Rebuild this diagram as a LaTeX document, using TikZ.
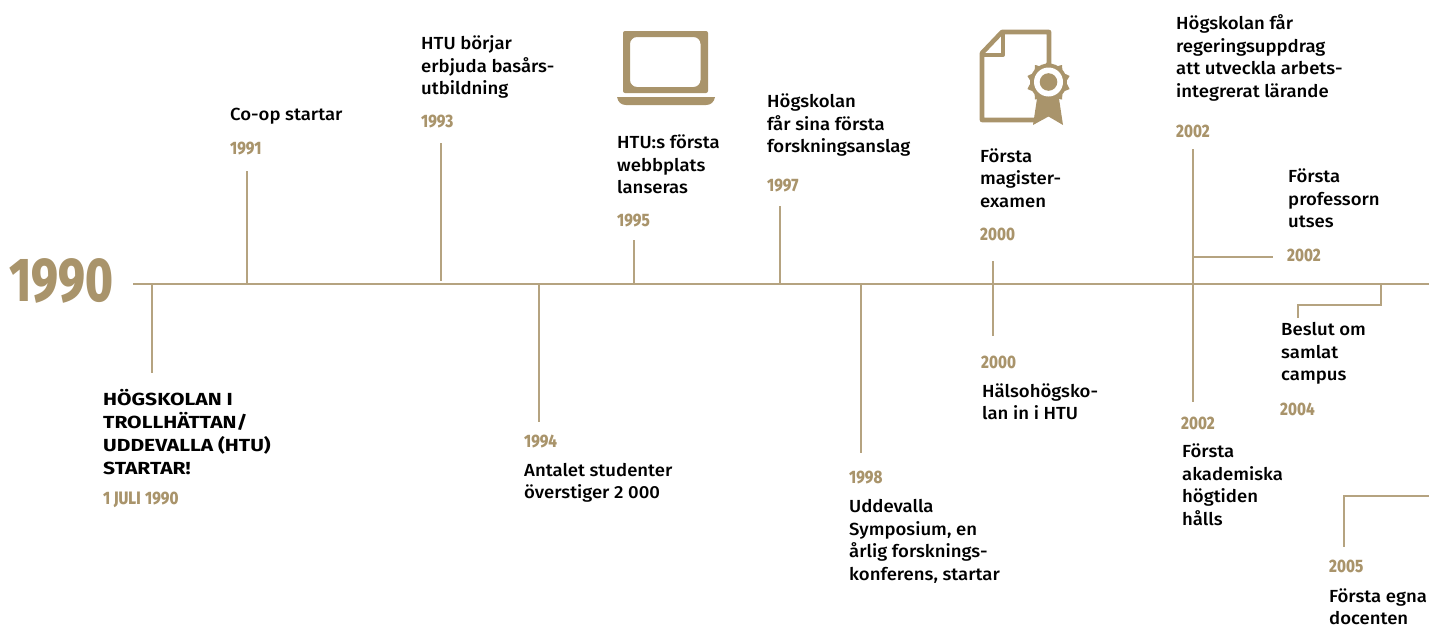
\documentclass[tikz,border=0pt]{standalone}
\usepackage{fontspec}
\setmainfont[FakeStretch=1.06]{Fira Sans Medium}
\newfontfamily\yearfont[FakeStretch=0.84]{Fira Sans ExtraBold}
\newfontfamily\bigfont[FakeStretch=0.76]{Fira Sans ExtraBold}
\newfontfamily\boldfont[FakeStretch=1.2]{Fira Sans Bold}
\definecolor{gold}{HTML}{A9946B}
\definecolor{linegold}{HTML}{B5A380}
\tikzset{
  x=1pt,y=-1pt,
  txt/.style={anchor=west,inner sep=0pt,align=left,text=black,font=\fontsize{17.5}{22.5}\selectfont},
  boldtxt/.style={txt,font=\boldfont\fontsize{17.5}{22.7}\selectfont},
  yr/.style={anchor=west,inner sep=0pt,text=gold,font=\yearfont\fontsize{18}{22}\selectfont},
  bigyr/.style={anchor=west,inner sep=0pt,text=gold,font=\bigfont\fontsize{62}{62}\selectfont},
  tl/.style={draw=linegold,line width=1.1pt},
  icon/.style={fill=gold,draw=none},
}
\begin{document}
\begin{tikzpicture}
\useasboundingbox (0,0) rectangle (1429,624);
% axis
\coordinate (axL) at (133,284);
\coordinate (axR) at (1429,284);
\draw[tl] (axL) -- (axR);
\node[bigyr] (big) at (9,281) {1990};

% 1990
\node[boldtxt] (t90) at (103,432) {HÖGSKOLAN I\\TROLLHÄTTAN/\\UDDEVALLA (HTU)\\STARTAR!};
\node[yr] (y90) at (103,500) {1 JULI\hspace{.25em}1990};
\coordinate (a90) at (152,284); \coordinate (b90) at (152,373);
\draw[tl] (a90) -- (b90);
% 1991
\node[txt] (t91) at (230,116.5) {Co-op startar};
\node[yr] (y91) at (230,149) {1991};
\coordinate (a91) at (247,284); \coordinate (b91) at (247,171);
\draw[tl] (a91) -- (b91);
% 1993
\node[txt] (t93) at (421,67) {HTU börjar\\erbjuda basårs-\\utbildning};
\node[yr] (y93) at (421,122) {1993};
\coordinate (a93) at (441,281); \coordinate (b93) at (441,143);
\draw[tl] (a93) -- (b93);
% 1994
\node[yr] (y94) at (524,441) {1994};
\node[txt] (t94) at (524,483) {Antalet studenter\\överstiger 2 000};
\coordinate (a94) at (539,284); \coordinate (b94) at (539,422);
\draw[tl] (a94) -- (b94);
% 1995
\node[txt] (t95) at (617,164.5) {HTU:s första\\webbplats\\lanseras};
\node[yr] (y95) at (617,221) {1995};
\coordinate (a95) at (634,284); \coordinate (b95) at (634,240);
\draw[tl] (a95) -- (b95);
% 1997
\node[txt] (t97) at (767,125.5) {Högskolan\\får sina första\\forskningsanslag};
\node[yr] (y97) at (767,186) {1997};
\coordinate (a97) at (780,284); \coordinate (b97) at (780,206);
\draw[tl] (a97) -- (b97);
% 1998
\node[yr] (y98) at (849,478) {1998};
\node[txt] (t98) at (849,541.5) {Uddevalla\\Symposium, en\\årlig forsknings-\\konferens, startar};
\coordinate (a98) at (861,284); \coordinate (b98) at (861,453);
\draw[tl] (a98) -- (b98);
% 2000 upper and lower
\node[txt] (t00a) at (980,178) {Första\\magister-\\examen};
\node[yr] (y00a) at (980,234) {2000};
\node[yr] (y00b) at (981,362) {2000};
\node[txt] (t00b) at (982,402) {Hälsohögsko-\\lan in i HTU};
\coordinate (a00) at (993,261); \coordinate (b00) at (993,336);
\draw[tl] (a00) -- (b00);
% 2002 group
\node[txt] (t02a) at (1176,58) {Högskolan får\\regeringsuppdrag\\att utveckla arbets-\\integrerat lärande};
\node[yr] (y02a) at (1176,131) {2002};
\node[txt] (t02b) at (1288,198.5) {Första\\professorn\\utses};
\node[yr] (y02b) at (1287,255) {2002};
\node[yr] (y02c) at (1181,423) {2002};
\node[txt] (t02c) at (1182,485) {Första\\akademiska\\högtiden\\hålls};
\coordinate (a02) at (1193,149); \coordinate (b02) at (1193,402);
\coordinate (c02) at (1193,257); \coordinate (d02) at (1273,257);
\draw[tl] (a02) -- (b02);
\draw[tl] (c02) -- (d02);
% 2004
\node[txt] (t04) at (1281,353.5) {Beslut om\\samlat\\campus};
\node[yr] (y04) at (1280,409) {2004};
\coordinate (a04) at (1381,284); \coordinate (m04) at (1381,305);
\coordinate (n04) at (1298,305); \coordinate (b04) at (1298,318);
\draw[tl] (a04) -- (m04) -- (n04) -- (b04);
% 2005
\node[yr] (y05) at (1329,566) {2005};
\node[txt] (t05) at (1329,607) {Första egna\\docenten};
\coordinate (a05) at (1429,496); \coordinate (m05) at (1344,496); \coordinate (b05) at (1344,547);
\draw[tl] (a05) -- (m05) -- (b05);

% laptop icon
\path[icon,even odd rule,rounded corners=2pt] (623,31) rectangle (708,93)
  [rounded corners=7pt] (630,37) rectangle (700.5,87);
\path[icon] (617,97) -- (715,97) .. controls (714,102) and (711,105) .. (706,105) -- (626,105) .. controls (621,105) and (618,102) .. (617,97) -- cycle;

% certificate icon
\begin{scope}
\draw[gold,line width=4.6pt,line join=round,line cap=round]
  (1049,64) -- (1049,32) -- (1002,32) -- (982,53) -- (982,120) -- (1035,120);
\draw[gold,line width=4pt,line join=round] (1003,32) -- (1003,55) -- (982,55);
\path[icon] (1038,92) -- (1033,125) -- (1048.5,116.5) -- (1063,125) -- (1058,92) -- cycle;
\path[icon] plot[smooth cycle,tension=0.15] coordinates {
  (1048.5,61) (1054.5,67) (1062,65) (1062.5,72.5) (1069.5,76) (1066,82) (1069.5,89)
  (1062.5,92) (1062,99.5) (1054.5,98) (1048.5,103) (1042.5,98) (1035,99.5) (1034.5,92)
  (1027.5,89) (1031,82) (1027.5,76) (1034.5,72.5) (1035,65) (1042.5,67)};
\fill[gold] (1048.5,82) circle[radius=18.5pt];
\fill[white] (1048.5,82) circle[radius=14.5pt];
\fill[gold] (1048.5,82) circle[radius=8.8pt];
\end{scope}
\end{tikzpicture}
\end{document}
